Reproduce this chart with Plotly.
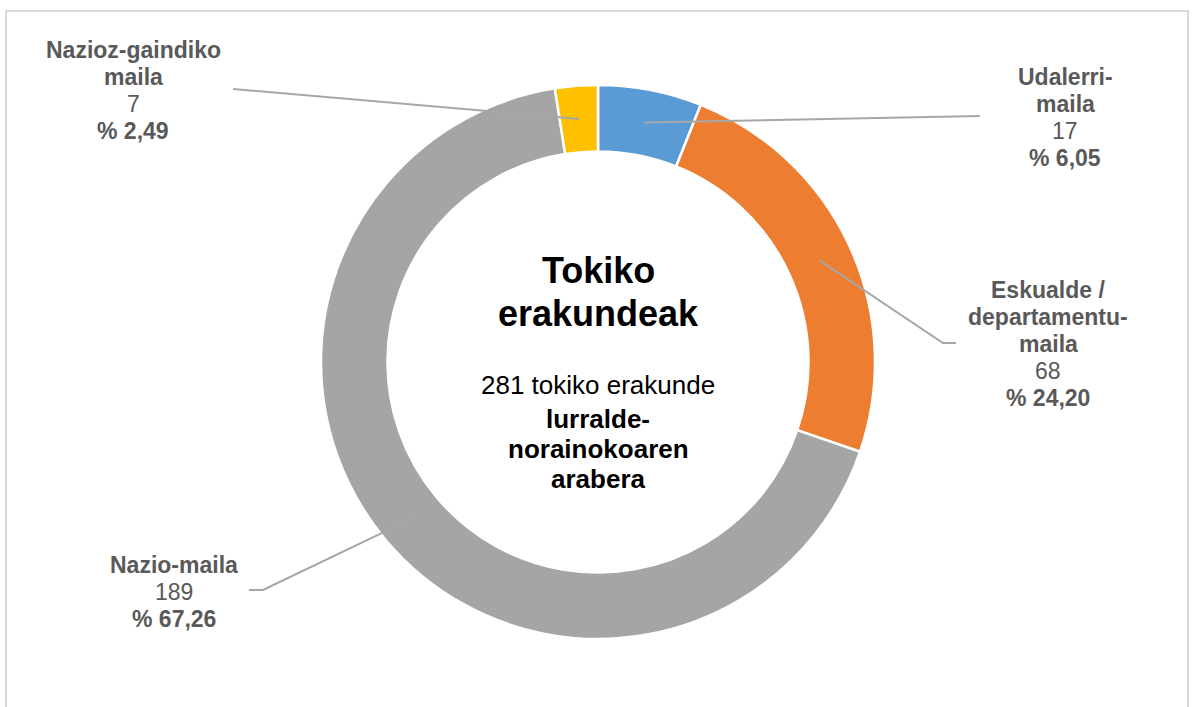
import math
import plotly.graph_objects as go

# ---- data ----
categories = ["Udalerri-maila", "Eskualde / departamentu-maila", "Nazio-maila", "Nazioz-gaindiko maila"]
values = [17, 68, 189, 7]
percent_labels = ["% 6,05", "% 24,20", "% 67,26", "% 2,49"]
name_lines = [["Udalerri-", "maila"], ["Eskualde /", "departamentu-", "maila"], ["Nazio-maila"], ["Nazioz-gaindiko", "maila"]]
colors = ["#5B9BD5", "#ED7D31", "#A5A5A5", "#FFC000"]
center_title = ["Tokiko", "erakundeak"]
center_sub = "281 tokiko erakunde"
center_sub_bold = ["lurralde-", "norainokoaren", "arabera"]

# ---- layout constants (pixels) ----
W, H = 1192, 707
CX, CY, R = 598, 362, 277
HOLE = 0.76
FONT = "Liberation Sans, Arial, sans-serif"
LABEL_COLOR = "#595959"
LINE_COLOR = "#A6A6A6"
LH = 27
# label block: (center x, first line y)
label_pos = [(1065, 77), (1048, 290), (174, 565), (133, 50)]
# leader line end points near labels
leader_ends = [[(980, 116)], [(943, 343), (956, 343)], [(263, 590), (249, 590)], [(233, 89)]]

fig = go.Figure()

fig.add_trace(go.Pie(
    labels=categories, values=values, sort=False, direction="clockwise", rotation=0,
    hole=HOLE, textinfo="none", hoverinfo="label+value+percent",
    marker=dict(colors=colors, line=dict(color="white", width=2.5)),
    domain=dict(x=[(CX - R) / W, (CX + R) / W], y=[1 - (CY + R) / H, 1 - (CY - R) / H]),
    showlegend=False,
))

# invisible pixel axes for annotations/shapes
fig.add_trace(go.Scatter(x=[0, W], y=[0, H], mode="markers", marker=dict(opacity=0),
                         hoverinfo="skip", showlegend=False))

shapes = []
annotations = []

# frame
shapes.append(dict(type="rect", xref="x", yref="y", x0=6, y0=11, x1=1188, y1=730,
                   line=dict(color="#D9D9D9", width=2), layer="below"))

# leader lines from slice middle
total = sum(values)
cum = 0
rm = R * (1 + HOLE) / 2
for i, v in enumerate(values):
    mid = (cum + v / 2) / total * 2 * math.pi
    cum += v
    sx = CX + rm * math.sin(mid)
    sy = CY - rm * math.cos(mid)
    pts = [(sx, sy)] + leader_ends[i]
    path = "M " + " L ".join(f"{x:.1f},{y:.1f}" for x, y in pts)
    shapes.append(dict(type="path", xref="x", yref="y", path=path,
                       line=dict(color=LINE_COLOR, width=2), layer="above"))

def add_text(x, y, text, size, color, bold=False):
    annotations.append(dict(
        x=x, y=y, xref="x", yref="y", text=f"<b>{text}</b>" if bold else text,
        showarrow=False, xanchor="center", yanchor="middle",
        font=dict(family=FONT, size=size, color=color)))

# outer labels
for i in range(len(values)):
    lx, ly = label_pos[i]
    lines = [(t, True) for t in name_lines[i]] + [(str(values[i]), False), (percent_labels[i], True)]
    for j, (t, b) in enumerate(lines):
        add_text(lx, ly + j * LH, t, 23, LABEL_COLOR, b)

# center text
add_text(CX, 270, center_title[0], 36, "#000000", True)
add_text(CX, 313, center_title[1], 36, "#000000", True)
add_text(CX, 385, center_sub, 26, "#000000", False)
for k, t in enumerate(center_sub_bold):
    add_text(CX, 419 + k * 30, t, 26, "#000000", True)

fig.update_layout(
    width=W, height=H, margin=dict(l=0, r=0, t=0, b=0),
    paper_bgcolor="white", plot_bgcolor="white",
    xaxis=dict(range=[0, W], visible=False, fixedrange=True, domain=[0, 1]),
    yaxis=dict(range=[H, 0], visible=False, fixedrange=True, domain=[0, 1]),
    shapes=shapes, annotations=annotations,
)

fig.write_html("out.html", config={"displayModeBar": False},
               post_script="document.body.style.margin='0';document.body.style.overflow='hidden';")
